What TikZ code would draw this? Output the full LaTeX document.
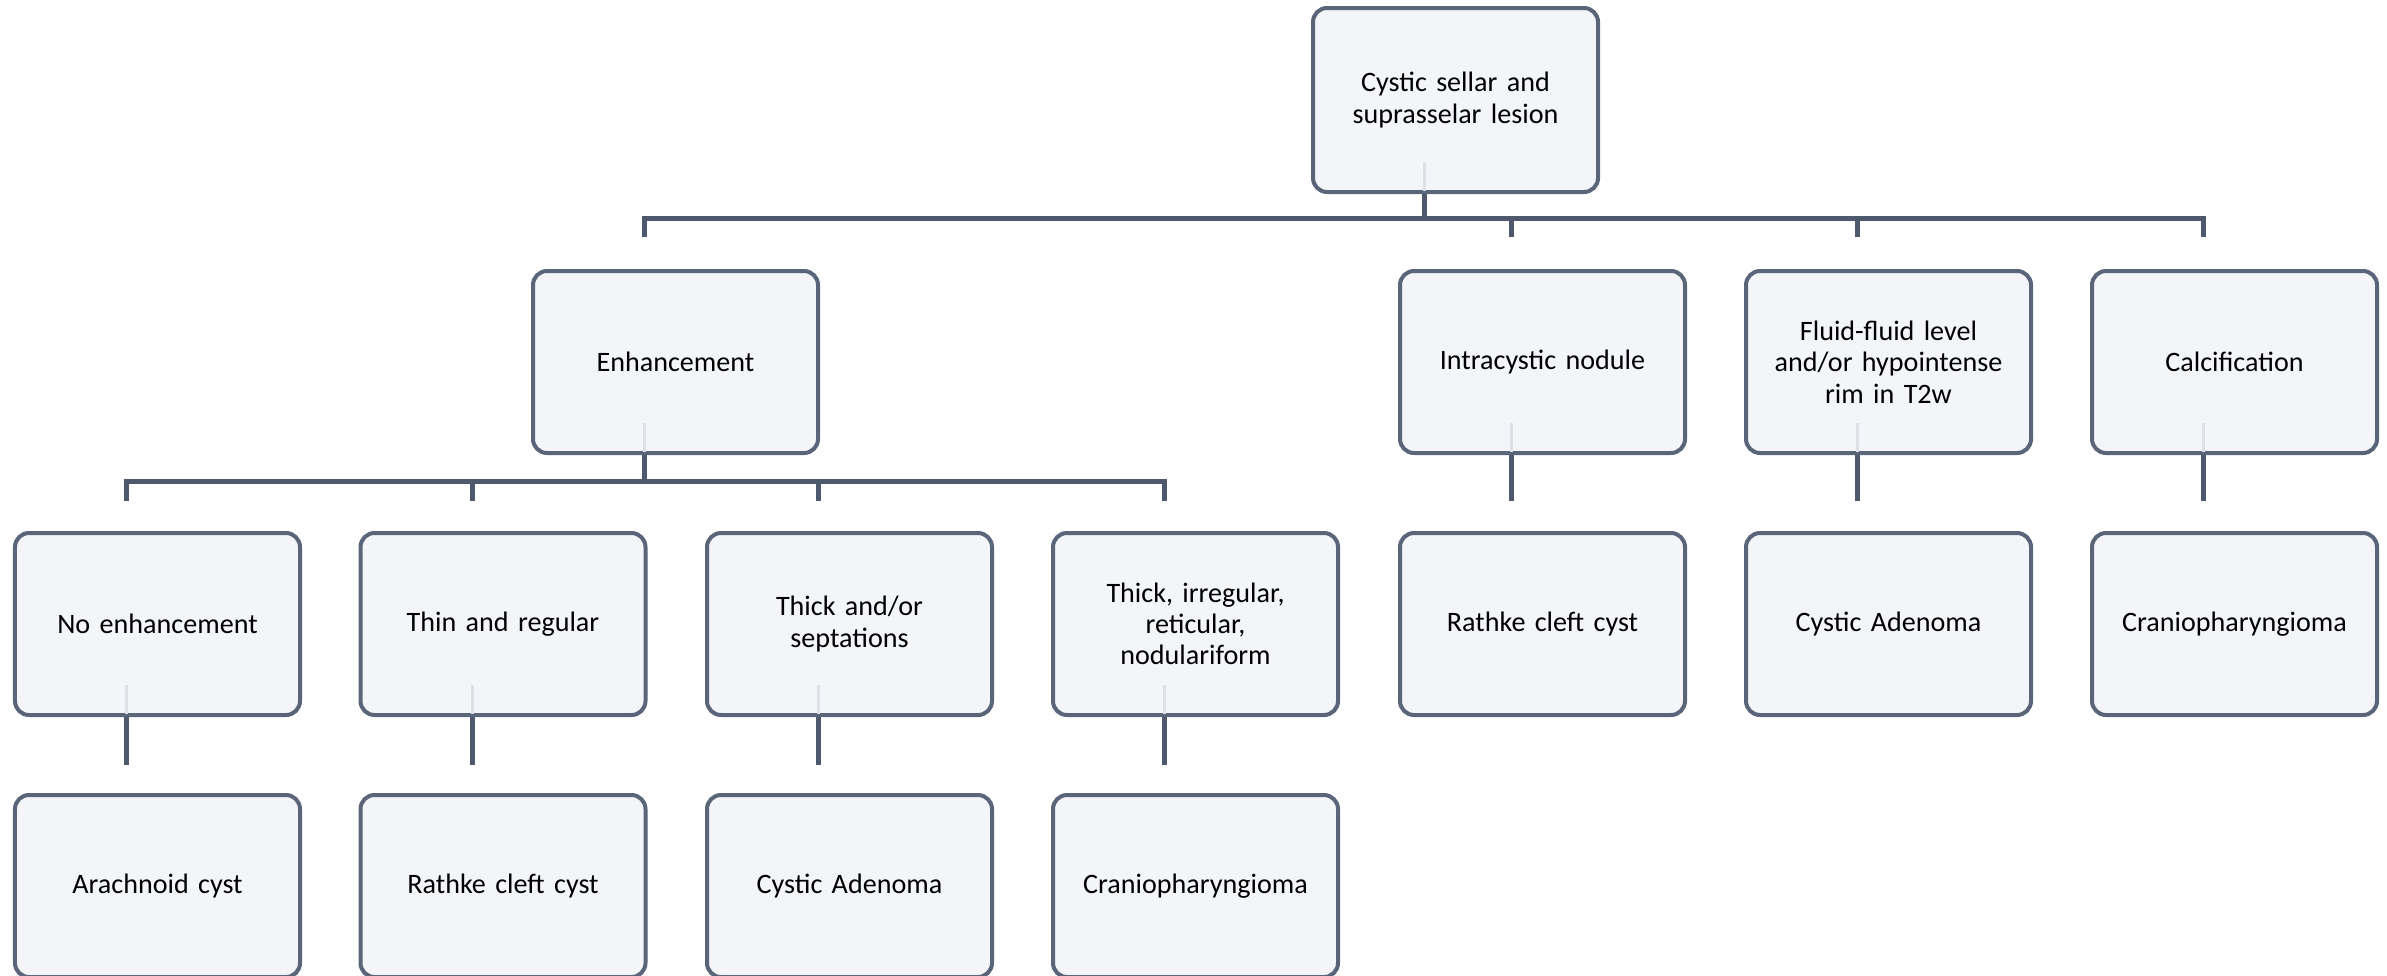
\documentclass[tikz,border=0pt]{standalone}
\usepackage{fontspec}
\setmainfont{Carlito}
\usetikzlibrary{calc}
\definecolor{boxline}{HTML}{5B6579}
\definecolor{connc}{HTML}{4F596D}
\definecolor{boxfill}{HTML}{F3F5F8}
\definecolor{ghost}{HTML}{DCE0E7}
\tikzset{
  box/.style={draw=boxline, line width=0.04cm, fill=boxfill, rounded corners=0.14cm,
    minimum width=2.85cm, minimum height=1.82cm, align=center, inner sep=0pt,
    text width=2.6cm, font=\fontsize{8}{8.9}\selectfont},
  conn/.style={draw=connc, line width=0.05cm},
  ghostline/.style={draw=ghost, line width=0.03cm}
}
\begin{document}
\begin{tikzpicture}
\useasboundingbox (0,0) rectangle (23.87,-9.75);
% level 0
\node[box, minimum height=1.84cm] (root) at (14.555,-1.00) {Cystic sellar and\\suprasselar lesion};
% level 1
\node[box] (enh)   at (6.755,-3.62)  {Enhancement};
\node[box] (intra) at (15.425,-3.62) {Intracystic nodule};
\node[box] (fluid) at (18.885,-3.62) {Fluid-fluid level\\and/or hypointense\\rim in T2w};
\node[box] (calc)  at (22.345,-3.62) {Calcification};
% level 2
\node[box] (noenh)    at (1.575,-6.24)  {No enhancement};
\node[box] (thin)     at (5.03,-6.24)   {Thin and regular};
\node[box] (thickor)  at (8.495,-6.24)  {Thick and/or\\septations};
\node[box] (thickirr) at (11.955,-6.24) {Thick, irregular,\\reticular,\\nodulariform};
\node[box] (rathkeA)  at (15.425,-6.24) {Rathke cleft cyst};
\node[box] (adenA)    at (18.885,-6.24) {Cystic Adenoma};
\node[box] (cranioA)  at (22.345,-6.24) {Craniopharyngioma};
% level 3
\node[box] (arach)    at (1.575,-8.86)  {Arachnoid cyst};
\node[box] (rathkeB)  at (5.03,-8.86)   {Rathke cleft cyst};
\node[box] (adenB)    at (8.495,-8.86)  {Cystic Adenoma};
\node[box] (cranioB)  at (11.955,-8.86) {Craniopharyngioma};

% faint continuation inside parent boxes
\foreach \p in {root,enh,intra,fluid,calc,noenh,thin,thickor,thickirr}{
  \draw[ghostline] ($(\p.south)+(-0.31,0.32)$) -- ($(\p.south)+(-0.31,0.03)$);
}

% bus from root
\coordinate (r0) at ($(root.south)+(-0.31,0)$);
\coordinate (rb) at ($(root.south)+(-0.31,-0.24)$);
\coordinate (e1) at ($(enh.north)+(-0.31,0.32)$);
\coordinate (i1) at ($(intra.north)+(-0.31,0.32)$);
\coordinate (f1) at ($(fluid.north)+(-0.31,0.32)$);
\coordinate (c1) at ($(calc.north)+(-0.31,0.32)$);
\draw[conn] (r0) -- (rb);
\draw[conn] (e1) |- (rb) -| (c1);
\draw[conn] (i1) -- (i1 |- rb);
\draw[conn] (f1) -- (f1 |- rb);

% bus from Enhancement
\coordinate (n0) at ($(enh.south)+(-0.31,0)$);
\coordinate (nb) at ($(enh.south)+(-0.31,-0.26)$);
\coordinate (a1) at ($(noenh.north)+(-0.31,0.30)$);
\coordinate (a2) at ($(thin.north)+(-0.31,0.30)$);
\coordinate (a3) at ($(thickor.north)+(-0.31,0.30)$);
\coordinate (a4) at ($(thickirr.north)+(-0.31,0.30)$);
\draw[conn] (n0) -- (nb);
\draw[conn] (a1) |- (nb) -| (a4);
\draw[conn] (a2) -- (a2 |- nb);
\draw[conn] (a3) -- (a3 |- nb);

% single connectors, right column
\coordinate (ri) at ($(rathkeA.north)+(-0.31,0.30)$);
\coordinate (ad) at ($(adenA.north)+(-0.31,0.30)$);
\coordinate (cr) at ($(cranioA.north)+(-0.31,0.30)$);
\draw[conn] ($(intra.south)+(-0.31,0)$) -- (ri);
\draw[conn] ($(fluid.south)+(-0.31,0)$) -- (ad);
\draw[conn] ($(calc.south)+(-0.31,0)$) -- (cr);

% level 2 to level 3
\coordinate (t1) at ($(arach.north)+(-0.31,0.28)$);
\coordinate (t2) at ($(rathkeB.north)+(-0.31,0.28)$);
\coordinate (t3) at ($(adenB.north)+(-0.31,0.28)$);
\coordinate (t4) at ($(cranioB.north)+(-0.31,0.28)$);
\draw[conn] ($(noenh.south)+(-0.31,0)$) -- (t1);
\draw[conn] ($(thin.south)+(-0.31,0)$) -- (t2);
\draw[conn] ($(thickor.south)+(-0.31,0)$) -- (t3);
\draw[conn] ($(thickirr.south)+(-0.31,0)$) -- (t4);
\end{tikzpicture}
\end{document}
